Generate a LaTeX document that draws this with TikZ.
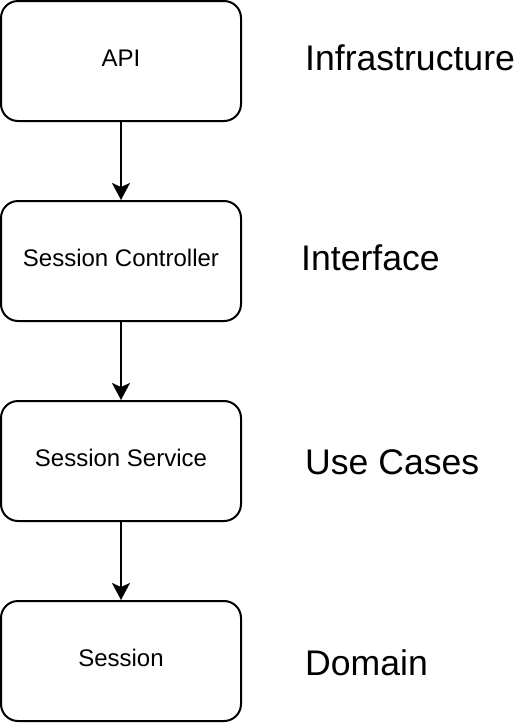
\documentclass[tikz,border=0pt]{standalone}
\usepackage{fontspec}
\setmainfont{Liberation Sans}
\usetikzlibrary{arrows.meta}
\begin{document}
\begin{tikzpicture}[x=1pt,y=-1pt,
  layerbox/.style={draw=black, line width=2pt, rounded corners=17pt, minimum width=240pt, minimum height=120pt, inner sep=0pt, text depth=6pt, font=\fontsize{24}{28}\selectfont, fill=white},
  layerlabel/.style={anchor=base west, inner sep=0pt, font=\fontsize{35.6}{40}\selectfont},
  flow/.style={line width=2pt, -{Stealth[length=17pt, width=18pt, inset=4pt]}}]
\useasboundingbox (0,0) rectangle (524,724);
\node[layerbox] (api) at (121,61) {API};
\node[layerbox] (ctrl) at (121,261) {Session Controller};
\node[layerbox] (svc) at (121,461) {Session Service};
\node[layerbox] (dom) at (121,661) {Session};
\draw[flow] (api) -- (ctrl);
\draw[flow] (ctrl) -- (svc);
\draw[flow] (svc) -- (dom);
\node[layerlabel] (l1) at (305,70) {Infrastructure};
\node[layerlabel] (l2) at (301,270) {Interface};
\node[layerlabel] (l3) at (305,474) {Use Cases};
\node[layerlabel] (l4) at (305,675) {Domain};
\end{tikzpicture}
\end{document}
